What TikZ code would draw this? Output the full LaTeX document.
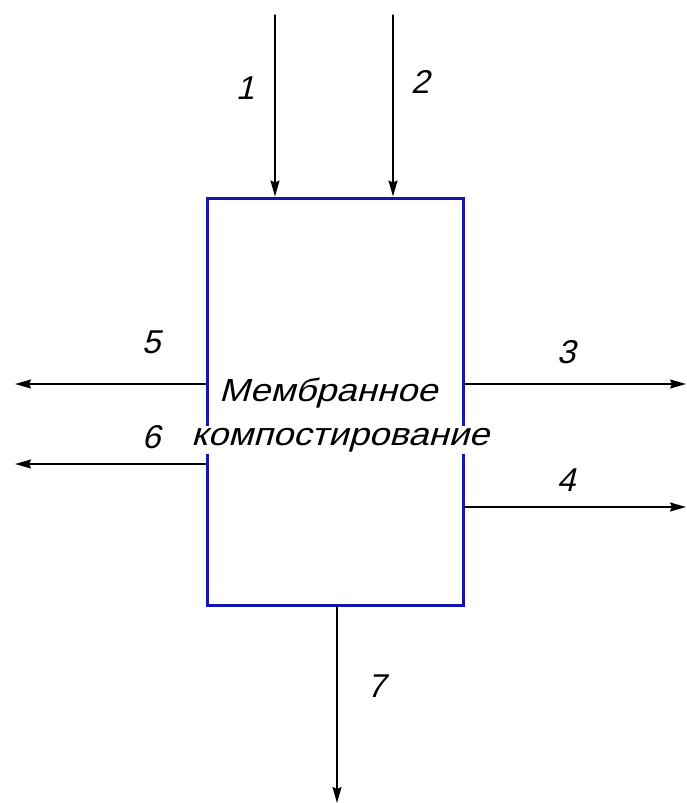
\documentclass[tikz,border=0pt]{standalone}
\usepackage{fontspec}
\setmainfont{Liberation Sans}[FakeSlant=0.25]
\usetikzlibrary{arrows.meta}
\definecolor{boxblue}{RGB}{20,20,175}

\begin{document}
\begin{tikzpicture}[x=1pt,y=-1pt,>={Stealth[length=16pt,width=9pt,inset=2pt]},line cap=round,
  flow/.style={->,black,line width=1.5pt},
  lbl/.style={font=\fontsize{33}{35}\selectfont},
  procbox/.style={draw=boxblue,line width=3pt,minimum width=256pt,minimum height=407pt,inner sep=0pt}]
\useasboundingbox (0,0) rectangle (686,803);
\node[procbox] (box) at (335,401.5) {};
\node[font=\fontsize{32}{34}\selectfont,xscale=1.14] (t1) at (328,393) {Мембранное};
\node[font=\fontsize{32}{34}\selectfont,xscale=1.14,fill=white,inner sep=2pt] (t2) at (340,440) {компостирование};
% inputs
\coordinate (in1) at (275,15);
\coordinate (in2) at (393,15);
\draw[flow] (in1) -- (in1 |- box.north);
\draw[flow] (in2) -- (in2 |- box.north);
\node[lbl] (n1) at (245,88) {1};
\node[lbl] (n2) at (420,82) {2};
% outputs
\coordinate (out3) at (686,384);
\coordinate (out4) at (686,507);
\coordinate (out5) at (15,384);
\coordinate (out6) at (15,464);
\coordinate (out7) at (337,803);
\draw[flow] (box.east |- out3) -- (out3);
\draw[flow] (box.east |- out4) -- (out4);
\draw[flow] (box.west |- out5) -- (out5);
\draw[flow] (box.west |- out6) -- (out6);
\draw[flow] (box.south -| out7) -- (out7);
\node[lbl] (n3) at (566,352) {3};
\node[lbl] (n4) at (566,480) {4};
\node[lbl] (n5) at (151,342) {5};
\node[lbl] (n6) at (151,437) {6};
\node[lbl] (n7) at (376,686) {7};
\end{tikzpicture}
\end{document}
